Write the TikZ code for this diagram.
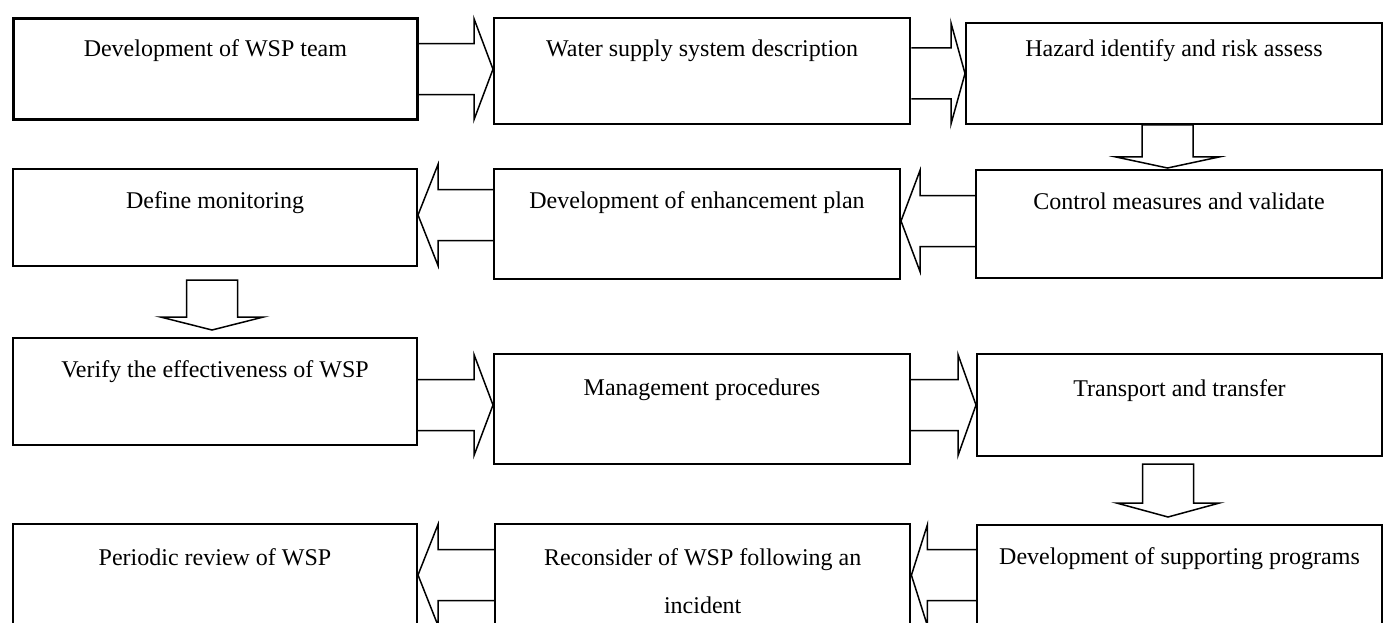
\documentclass[tikz,border=0pt]{standalone}
\usepackage{fontspec}
\setmainfont{Liberation Serif}
\usetikzlibrary{calc}

\tikzset{
  box/.style={draw, line width=2pt, anchor=north west, inner sep=0pt},
  boxtext/.style={anchor=base, yshift=-40pt, align=center, font=\fontsize{24}{48}\selectfont},
  blockarrow/.style={draw, line width=1.5pt, line join=miter},
}

% horizontal block arrow: tail anchor, tip anchor, vertical offset, signed head length
\newcommand{\hblock}[4]{%
  \coordinate (tail) at ($(#1 |- #2)+(0,#3)$);
  \coordinate (tip)  at ($(#2)+(0,#3)$);
  \draw[blockarrow] ($(tail)+(0,-25.5)$) -- ($(tip)+(#4,-25.5)$) -- ($(tip)+(#4,-50.5)$)
    -- (tip) -- ($(tip)+(#4,50.5)$) -- ($(tip)+(#4,25.5)$) -- ($(tail)+(0,25.5)$);}

% downward block arrow: from, to, x offset, top gap, tip gap, head length
\newcommand{\vblock}[6]{%
  \coordinate (top) at ($(#1.south)+(#3,#4)$);
  \coordinate (tip) at ($(top |- #2.north)+(0,-#5)$);
  \draw[blockarrow] ($(top)+(-25.5,0)$) -- ($(top)+(25.5,0)$) -- ($(tip)+(25.5,-#6)$)
    -- ($(tip)+(51.5,-#6)$) -- (tip) -- ($(tip)+(-51.5,-#6)$) -- ($(tip)+(-25.5,-#6)$) -- cycle;}

\begin{document}
\begin{tikzpicture}[x=1pt, y=-1pt]
  \clip (0,0) rectangle (1384,623);

  % first row
  \node[box, line width=2.8pt, minimum width=404pt, minimum height=101pt,
        label={[boxtext]north:Development of WSP team}] (team) at (12,17) {};
  \node[box, line width=2.4pt, minimum width=416pt, minimum height=106pt,
        label={[boxtext]north:Water supply system description}] (system) at (493,17) {};
  \node[box, minimum width=416pt, minimum height=101pt,
        label={[boxtext, yshift=5pt]north:Hazard identify and risk assess}] (hazard) at (965,22) {};

  % second row
  \node[box, minimum width=406pt, minimum height=108pt,
        label={[boxtext]north:Control measures and validate}] (control) at (975,169) {};
  \node[box, minimum width=406pt, minimum height=110pt,
        label={[boxtext]north:Development of enhancement plan}] (enhance) at (493,168) {};
  \node[box, minimum width=404pt, minimum height=97pt,
        label={[boxtext]north:Define monitoring}] (monitor) at (12,168) {};

  % third row
  \node[box, minimum width=404pt, minimum height=107pt,
        label={[boxtext]north:Verify the effectiveness of WSP}] (verify) at (12,337) {};
  \node[box, minimum width=416pt, minimum height=110pt,
        label={[boxtext, yshift=-2pt]north:Management procedures}] (manage) at (493,353) {};
  \node[box, minimum width=405pt, minimum height=102pt,
        label={[boxtext, yshift=-3pt]north:Transport and transfer}] (transport) at (976,353) {};

  % fourth row
  \node[box, minimum width=405pt, minimum height=102pt,
        label={[boxtext]north:Development of supporting programs}] (support) at (976,524) {};
  \node[box, line width=2.4pt, minimum width=415pt, minimum height=102pt,
        label={[boxtext, yshift=-50pt]north:{Reconsider of WSP following an\\incident}}] (reconsider) at (494,523) {};
  \node[box, minimum width=404pt, minimum height=102pt,
        label={[boxtext, yshift=-2pt]north:Periodic review of WSP}] (periodic) at (12,523) {};

  % block arrows
  \hblock{team.east}{system.west}{-2}{-19}
  \hblock{system.east}{hazard.west}{0}{-14}
  \vblock{hazard}{control}{-6.5}{0}{1}{11}
  \hblock{control.west}{enhance.east}{-3}{19}
  \hblock{enhance.west}{monitor.east}{-2.5}{20}
  \vblock{monitor}{verify}{-3}{13}{7}{13}
  \hblock{verify.east}{manage.west}{-4}{-19}
  \hblock{manage.east}{transport.west}{0}{-18}
  \vblock{transport}{support}{-11.5}{7}{7}{14}
  \hblock{support.west}{reconsider.east}{0}{16}
  \hblock{reconsider.west}{periodic.east}{0}{20}
\end{tikzpicture}
\end{document}
